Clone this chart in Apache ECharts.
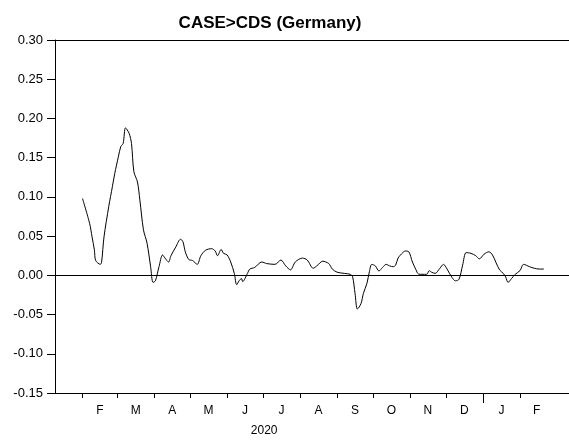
<!DOCTYPE html>
<html>
<head>
<meta charset="utf-8">
<script src="https://cdn.jsdelivr.net/npm/echarts@6/dist/echarts.min.js"></script>
<style>
  html, body { margin: 0; padding: 0; background: #fff; }
  #chart { width: 569px; height: 441px; }
</style>
</head>
<body>
<div id="chart"></div>
<script>
// Days counted from 2020-01-01 (2020 is a leap year)
const dayIndex = [
  31, 37, 39, 41, 42, 46, 47, 49, 53, 56, 58, 61, 63, 65, 67, 70, 72, 74, 77, 79,
  82, 85, 88, 90, 92, 95, 98, 100, 103, 105, 109, 113, 115, 117, 120, 123, 127, 130, 134, 139,
  142, 144, 147, 149, 152, 155, 158, 160, 162, 164, 165, 169, 171, 175, 181, 185, 192, 197, 201, 205,
  209, 215, 219, 224, 227, 232, 237, 240, 244, 250, 255, 257, 259, 261, 264, 266, 269, 271, 273, 276,
  279, 282, 285, 288, 291, 293, 295, 299, 301, 304, 307, 310, 312, 315, 319, 321, 323, 326, 330, 333,
  336, 340, 343, 346, 349, 352, 356, 360, 363, 367, 371, 374, 377, 380, 383, 385, 387, 390, 393, 397,
  400, 405, 409, 413, 417
];
const caseCds = [
  0.098, 0.066, 0.049, 0.032, 0.019, 0.014, 0.017, 0.049, 0.088, 0.113, 0.130, 0.151, 0.164, 0.168, 0.188, 0.181, 0.168, 0.132, 0.119, 0.096,
  0.058, 0.041, 0.011, -0.009, -0.007, 0.011, 0.026, 0.022, 0.017, 0.025, 0.036, 0.046, 0.043, 0.030, 0.020, 0.019, 0.014, 0.025, 0.032, 0.034,
  0.031, 0.025, 0.033, 0.028, 0.026, 0.017, 0.0025, -0.012, -0.007, -0.004, -0.008, 0.0025, 0.008, 0.010, 0.017, 0.015, 0.014, 0.0195, 0.012, 0.007,
  0.017, 0.022, 0.0195, 0.009, 0.012, 0.018, 0.015, 0.008, 0.004, 0.0025, 0.0013, -0.002, -0.023, -0.043, -0.036, -0.023, -0.010, 0.0046, 0.014, 0.012,
  0.0055, 0.010, 0.014, 0.012, 0.011, 0.013, 0.022, 0.029, 0.031, 0.030, 0.017, 0.007, 0.0017, 0.0013, 0.0013, 0.006, 0.004, 0.0025, 0.009, 0.014,
  0.008, -0.0025, -0.007, -0.005, 0.013, 0.029, 0.028, 0.025, 0.021, 0.027, 0.030, 0.026, 0.016, 0.0068, 0.0025, -0.002, -0.009, -0.004, 0.0013, 0.006,
  0.014, 0.011, 0.009, 0.008, 0.008
];

// Month boundaries (Feb 2020 .. Feb 2021) and mid-month label positions
const monthStarts = [31, 60, 91, 121, 152, 182, 213, 244, 274, 305, 335, 366, 397];
const monthMids = [45.5, 75.5, 106, 136.5, 167, 197.5, 228.5, 259, 289.5, 320, 350.5, 381.5, 411];
const monthLabels = ['F', 'M', 'A', 'M', 'J', 'J', 'A', 'S', 'O', 'N', 'D', 'J', 'F'];
const yearStart = [366];
const yearMid = [183];
const yearLabel = '2020';

const FONT = "'Liberation Sans', Arial, sans-serif";
const xMin = 8, xMax = 438;

const chart = echarts.init(document.getElementById('chart'), null, { renderer: 'canvas' });

const baseX = {
  type: 'value', min: xMin, max: xMax, position: 'bottom',
  splitLine: { show: false },
  axisLine: { show: false, onZero: false },
  axisTick: { show: false },
  axisLabel: { show: false }
};

chart.setOption({
  animation: false,
  title: {
    text: 'CASE>CDS (Germany)',
    left: 265, top: 10, textAlign: 'center',
    textStyle: { fontFamily: FONT, fontSize: 17, fontWeight: 'bold', color: '#000' }
  },
  grid: { left: 55, right: 0, top: 40, bottom: 48, containLabel: false },
  xAxis: [
    {
      ...baseX,
      axisLine: { show: true, onZero: false, lineStyle: { color: '#000', width: 1 } },
      axisTick: { show: true, inside: false, length: 5, lineStyle: { color: '#000' }, customValues: monthStarts },
      axisLabel: {
        show: true, margin: 12, color: '#000', fontFamily: FONT, fontSize: 12,
        customValues: monthMids,
        formatter: v => monthLabels[monthMids.indexOf(v)]
      }
    },
    {
      ...baseX,
      axisTick: { show: true, inside: false, length: 10, lineStyle: { color: '#000' }, customValues: yearStart }
    },
    {
      ...baseX,
      axisLabel: {
        show: true, margin: 32, color: '#000', fontFamily: FONT, fontSize: 12,
        customValues: yearMid, formatter: () => yearLabel
      }
    },
    {
      ...baseX, position: 'top',
      axisLine: { show: true, onZero: false, lineStyle: { color: '#000', width: 1 } }
    }
  ],
  yAxis: {
    type: 'value', min: -0.15, max: 0.30, interval: 0.05,
    splitLine: { show: false },
    axisLine: { show: true, onZero: false, lineStyle: { color: '#000', width: 1 } },
    axisTick: { show: true, inside: false, length: 8, lineStyle: { color: '#000' } },
    axisLabel: {
      margin: 12, color: '#000', fontFamily: FONT, fontSize: 13,
      formatter: v => v.toFixed(2)
    }
  },
  series: [{
    type: 'line',
    xAxisIndex: 0,
    data: dayIndex.map((d, i) => [d, caseCds[i]]),
    showSymbol: false,
    smooth: 0.3,
    lineStyle: { color: '#000', width: 1 },
    markLine: {
      silent: true, symbol: 'none', label: { show: false },
      lineStyle: { color: '#000', width: 1, type: 'solid' },
      data: [{ yAxis: 0 }]
    }
  }]
});
</script>
</body>
</html>
